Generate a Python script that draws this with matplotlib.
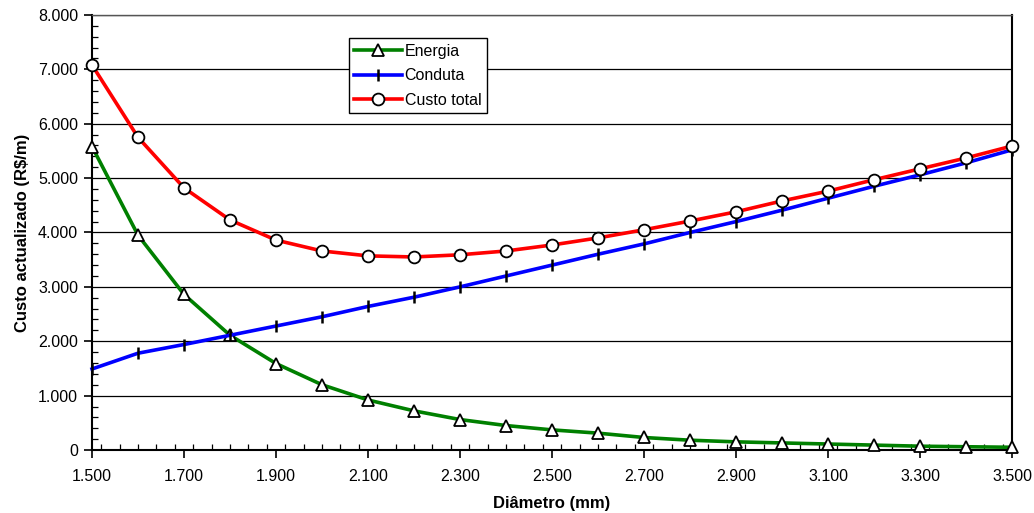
import numpy as np
import matplotlib.pyplot as plt
from matplotlib.ticker import FuncFormatter, FixedLocator, MultipleLocator

plt.rcParams['font.family'] = ['Liberation Sans', 'DejaVu Sans']

# Diametros (mm) e custos actualizados (R$/m)
diametro = [1.5, 1.6, 1.7, 1.8, 1.9, 2.0, 2.1, 2.2, 2.3, 2.4, 2.5,
            2.6, 2.7, 2.8, 2.9, 3.0, 3.1, 3.2, 3.3, 3.4, 3.5]
energia = [5580, 3950, 2860, 2110, 1590, 1200, 920, 720, 560, 450, 370,
           310, 230, 180, 150, 130, 110, 90, 70, 60, 50]
conduta = [1490, 1780, 1940, 2110, 2280, 2450, 2640, 2810, 3000, 3200, 3400,
           3600, 3790, 4000, 4200, 4410, 4630, 4850, 5060, 5280, 5520]
custo_total = [7080, 5750, 4820, 4230, 3860, 3660, 3570, 3550, 3590, 3660, 3770,
               3900, 4050, 4210, 4380, 4580, 4760, 4970, 5170, 5370, 5590]
x_ticks = [1.5, 1.7, 1.9, 2.1, 2.3, 2.5, 2.7, 2.9, 3.1, 3.3, 3.5]


def milhar(v, pos):
    # formato com ponto como separador de milhares
    return f"{int(round(v)):,}".replace(",", ".")


fig = plt.figure(figsize=(10.34, 5.13), dpi=100)
ax = fig.add_axes([0.089, 0.1228, 0.8897, 0.848])

ax.plot(diametro, energia, color='#008000', lw=2.6, marker='^', ms=8,
        mfc='white', mec='black', mew=1.3, label='Energia', zorder=3, clip_on=False)
ax.plot(diametro, conduta, color='#0000ff', lw=2.6, marker='|', ms=8,
        mec='black', mew=1.8, label='Conduta', zorder=3, clip_on=False)
ax.plot(diametro, custo_total, color='#ff0000', lw=2.6, marker='o', ms=8.5,
        mfc='white', mec='black', mew=1.3, label='Custo total', zorder=4, clip_on=False)

ax.set_xlim(1.5, 3.5)
ax.set_ylim(0, 8000)
ax.xaxis.set_major_locator(FixedLocator(x_ticks))
ax.xaxis.set_minor_locator(MultipleLocator(0.04))
ax.yaxis.set_major_locator(MultipleLocator(1000))
ax.yaxis.set_minor_locator(MultipleLocator(200))
ax.yaxis.set_major_formatter(FuncFormatter(milhar))
ax.xaxis.set_major_formatter(FuncFormatter(lambda v, p: f"{v:.3f}"))

ax.tick_params(which='major', direction='out', length=6, width=1.2, labelsize=11.5)
ax.tick_params(which='minor', direction='in', length=4, width=0.9)
ax.tick_params(axis='x', pad=8)
ax.tick_params(axis='y', pad=4)

ax.grid(axis='y', which='major', color='black', lw=0.9)
ax.set_axisbelow(True)
for s in ax.spines.values():
    s.set_color('black')
    s.set_linewidth(1.5)
ax.spines['top'].set_color('#555555')
ax.spines['top'].set_linewidth(1)

ax.set_xlabel('Diâmetro (mm)', fontsize=12, fontweight='bold', labelpad=8)
ax.set_ylabel('Custo actualizado (R$/m)', fontsize=12, fontweight='bold', labelpad=6)

leg = ax.legend(loc='upper left', bbox_to_anchor=(0.279, 0.947), fontsize=11.5,
                frameon=True, fancybox=False, edgecolor='black', framealpha=1,
                handlelength=3.0, handletextpad=0.15, borderpad=0.35,
                labelspacing=0.6, borderaxespad=0)
leg.get_frame().set_linewidth(1)

fig.savefig('out.png', dpi=100)
